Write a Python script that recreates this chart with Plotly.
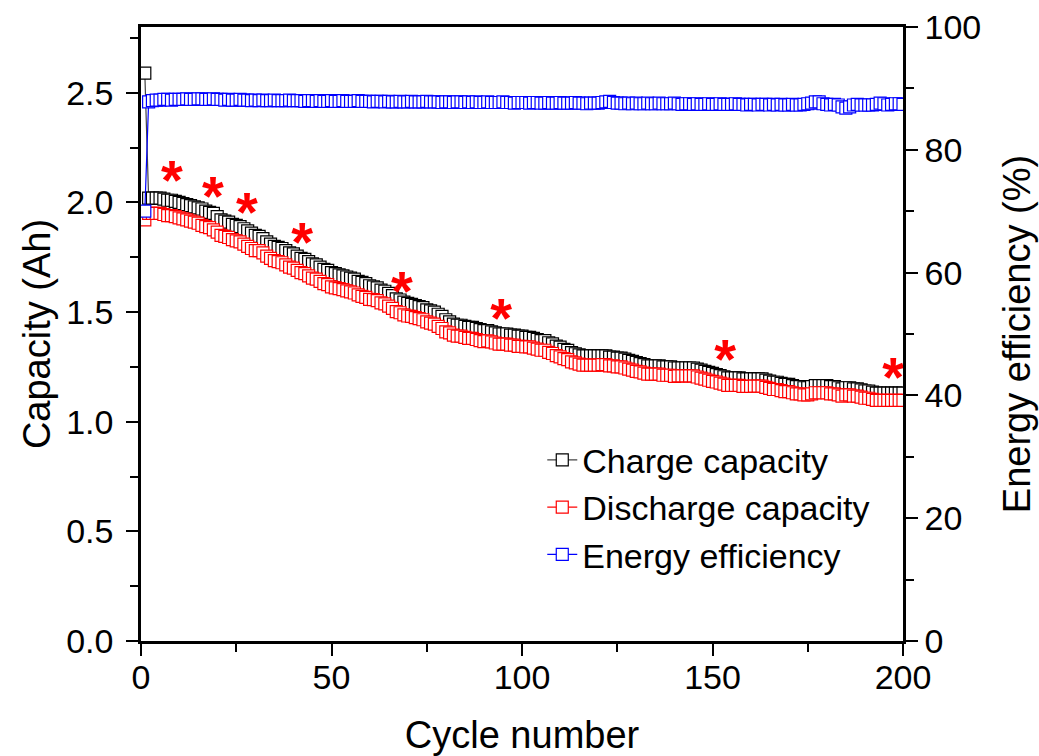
import plotly.graph_objects as go

cycles = list(range(1, 201))

charge_capacity = [
    2.59, 2.02, 2.02, 2.02, 2.02, 2.015, 2.01, 2.01, 2.005, 2.00,
    1.995, 1.99, 1.985, 1.98, 1.975, 1.97, 1.96, 1.955, 1.95, 1.935,
    1.92, 1.915, 1.91, 1.90, 1.895, 1.89, 1.88, 1.87, 1.86, 1.85,
    1.845, 1.835, 1.82, 1.81, 1.80, 1.795, 1.79, 1.78, 1.77, 1.765,
    1.755, 1.745, 1.74, 1.73, 1.72, 1.715, 1.705, 1.695, 1.69, 1.68,
    1.675, 1.67, 1.665, 1.66, 1.655, 1.65, 1.64, 1.635, 1.63, 1.62,
    1.615, 1.61, 1.60, 1.595, 1.585, 1.575, 1.56, 1.555, 1.545, 1.54,
    1.535, 1.53, 1.525, 1.52, 1.51, 1.505, 1.50, 1.49, 1.48, 1.465,
    1.455, 1.445, 1.44, 1.44, 1.435, 1.43, 1.43, 1.425, 1.42, 1.415,
    1.415, 1.41, 1.405, 1.40, 1.40, 1.40, 1.395, 1.395, 1.39, 1.39,
    1.385, 1.385, 1.38, 1.375, 1.37, 1.37, 1.36, 1.355, 1.345, 1.34,
    1.33, 1.325, 1.315, 1.31, 1.305, 1.30, 1.30, 1.30, 1.30, 1.30,
    1.30, 1.30, 1.295, 1.295, 1.29, 1.29, 1.285, 1.28, 1.275, 1.27,
    1.265, 1.26, 1.255, 1.255, 1.255, 1.255, 1.25, 1.25, 1.25, 1.245,
    1.245, 1.245, 1.245, 1.245, 1.245, 1.24, 1.235, 1.23, 1.225, 1.22,
    1.215, 1.21, 1.205, 1.20, 1.20, 1.20, 1.20, 1.195, 1.195, 1.195,
    1.195, 1.195, 1.195, 1.19, 1.185, 1.18, 1.18, 1.175, 1.17, 1.17,
    1.165, 1.16, 1.16, 1.155, 1.155, 1.16, 1.165, 1.165, 1.165, 1.165,
    1.16, 1.16, 1.155, 1.15, 1.155, 1.155, 1.15, 1.15, 1.145, 1.14,
    1.14, 1.135, 1.13, 1.13, 1.13, 1.13, 1.13, 1.13, 1.13, 1.13,
]

discharge_capacity = [
    1.92, 1.95, 1.95, 1.95, 1.95, 1.945, 1.94, 1.94, 1.935, 1.93,
    1.925, 1.92, 1.915, 1.91, 1.905, 1.895, 1.89, 1.885, 1.875, 1.865,
    1.85, 1.845, 1.84, 1.83, 1.825, 1.82, 1.81, 1.80, 1.79, 1.78,
    1.78, 1.77, 1.755, 1.745, 1.735, 1.73, 1.725, 1.715, 1.705, 1.70,
    1.69, 1.68, 1.675, 1.665, 1.655, 1.65, 1.64, 1.63, 1.625, 1.615,
    1.61, 1.607, 1.602, 1.597, 1.592, 1.587, 1.578, 1.572, 1.567, 1.558,
    1.557, 1.552, 1.542, 1.537, 1.527, 1.517, 1.502, 1.497, 1.487, 1.482,
    1.48, 1.475, 1.47, 1.465, 1.455, 1.45, 1.445, 1.435, 1.425, 1.41,
    1.405, 1.395, 1.39, 1.39, 1.385, 1.38, 1.38, 1.375, 1.37, 1.365,
    1.369, 1.364, 1.359, 1.354, 1.354, 1.354, 1.349, 1.349, 1.344, 1.344,
    1.341, 1.341, 1.336, 1.331, 1.326, 1.326, 1.316, 1.311, 1.301, 1.296,
    1.288, 1.283, 1.273, 1.268, 1.263, 1.258, 1.258, 1.258, 1.258, 1.258,
    1.26, 1.26, 1.255, 1.255, 1.25, 1.25, 1.245, 1.24, 1.235, 1.23,
    1.227, 1.222, 1.217, 1.217, 1.217, 1.217, 1.212, 1.212, 1.212, 1.207,
    1.209, 1.209, 1.209, 1.209, 1.209, 1.204, 1.199, 1.194, 1.189, 1.184,
    1.181, 1.176, 1.171, 1.166, 1.166, 1.166, 1.166, 1.161, 1.161, 1.161,
    1.162, 1.162, 1.162, 1.157, 1.152, 1.147, 1.147, 1.142, 1.137, 1.137,
    1.132, 1.127, 1.127, 1.122, 1.122, 1.127, 1.132, 1.132, 1.132, 1.132,
    1.127, 1.127, 1.122, 1.117, 1.122, 1.122, 1.117, 1.117, 1.112, 1.107,
    1.107, 1.102, 1.097, 1.097, 1.097, 1.097, 1.097, 1.097, 1.097, 1.097,
]

energy_efficiency = [
    70.0, 87.8, 88.0, 88.1, 88.1, 88.2, 88.2, 88.1, 88.2, 88.2,
    88.2, 88.3, 88.2, 88.2, 88.3, 88.3, 88.2, 88.2, 88.3, 88.2,
    88.2, 88.1, 88.2, 88.1, 88.1, 88.2, 88.1, 88.1, 88.0, 88.1,
    88.0, 88.1, 88.0, 88.0, 88.1, 88.0, 88.0, 88.0, 88.1, 88.0,
    88.0, 88.0, 87.9, 88.0, 88.0, 87.9, 88.0, 87.9, 87.9, 88.0,
    87.9, 87.9, 88.0, 87.9, 87.9, 87.9, 88.0, 87.9, 87.9, 87.9,
    87.8, 87.9, 87.9, 87.8, 87.9, 87.8, 87.8, 87.9, 87.8, 87.8,
    87.9, 87.8, 87.8, 87.8, 87.9, 87.8, 87.8, 87.8, 87.7, 87.8,
    87.8, 87.7, 87.8, 87.8, 87.7, 87.8, 87.7, 87.8, 87.7, 87.7,
    87.8, 87.7, 87.7, 87.7, 87.8, 87.7, 87.7, 87.6, 87.7, 87.7,
    87.7, 87.6, 87.7, 87.7, 87.6, 87.6, 87.7, 87.6, 87.6, 87.7,
    87.6, 87.6, 87.6, 87.7, 87.6, 87.6, 87.5, 87.6, 87.6, 87.6,
    87.7, 87.8, 87.9, 87.7, 87.6, 87.6, 87.5, 87.6, 87.5, 87.6,
    87.5, 87.5, 87.6, 87.5, 87.5, 87.6, 87.5, 87.5, 87.5, 87.6,
    87.5, 87.4, 87.5, 87.5, 87.4, 87.5, 87.4, 87.4, 87.5, 87.4,
    87.4, 87.5, 87.4, 87.4, 87.4, 87.5, 87.4, 87.4, 87.3, 87.4,
    87.4, 87.3, 87.4, 87.4, 87.3, 87.4, 87.3, 87.4, 87.3, 87.3,
    87.4, 87.3, 87.3, 87.4, 87.5, 87.6, 87.8, 87.8, 87.5, 87.4,
    87.3, 87.4, 87.3, 87.0, 86.8, 87.0, 87.3, 87.4, 87.3, 87.3,
    87.3, 87.3, 87.4, 87.6, 87.5, 87.3, 87.4, 87.5, 87.5, 87.4,
]

star_cycles = [8.1, 18.9, 27.8, 42.3, 68.5, 94.5, 153.3, 197.4]
star_capacity = [2.08, 2.005, 1.935, 1.795, 1.575, 1.45, 1.265, 1.18]

x_ticks = [0, 50, 100, 150, 200]
y_ticks = [0.0, 0.5, 1.0, 1.5, 2.0, 2.5]
y2_ticks = [0, 20, 40, 60, 80, 100]

FONT = "Liberation Sans, Arial, sans-serif"

fig = go.Figure()

fig.add_trace(go.Scatter(
    x=cycles, y=charge_capacity, name="Charge capacity",
    mode="lines+markers",
    line=dict(color="#444444", width=1.2),
    marker=dict(symbol="square", size=12, color="white",
                line=dict(color="black", width=1.2)),
))
fig.add_trace(go.Scatter(
    x=cycles, y=discharge_capacity, name="Discharge capacity",
    mode="lines+markers",
    line=dict(color="#ff0000", width=1.2),
    marker=dict(symbol="square", size=12, color="white",
                line=dict(color="#ff0000", width=1.2)),
))
fig.add_trace(go.Scatter(
    x=star_cycles, y=star_capacity, mode="text", text=["*"] * len(star_cycles),
    textposition="middle center",
    textfont=dict(family="Liberation Sans, Arial, sans-serif", size=56, color="#ff0000",
                  weight="bold"),
    showlegend=False, cliponaxis=False, hoverinfo="skip",
))
fig.add_trace(go.Scatter(
    x=cycles, y=energy_efficiency, name="Energy efficiency", yaxis="y2",
    mode="lines+markers",
    line=dict(color="#0000ff", width=1.2),
    marker=dict(symbol="square", size=12, color="white",
                line=dict(color="#0000ff", width=1.2)),
))

axis_common = dict(
    showgrid=False, zeroline=False, showline=True, linecolor="black", linewidth=2.5,
    ticks="outside", ticklen=12, tickwidth=2, tickcolor="black",
    tickfont=dict(family=FONT, size=34, color="black"),
    automargin=False,
)

fig.update_layout(
    width=1039, height=756,
    margin=dict(l=141, r=136, t=27, b=115),
    paper_bgcolor="white", plot_bgcolor="white",
    font=dict(family=FONT, color="black"),
    xaxis=dict(
        range=[0, 200], tickvals=x_ticks, mirror=True,
        minor=dict(tickvals=[25, 75, 125, 175], ticks="outside", ticklen=8,
                   tickwidth=2, tickcolor="black"),
        title=dict(text="Cycle number", font=dict(family=FONT, size=38), standoff=31),
        ticklabelstandoff=-8,
        **axis_common,
    ),
    yaxis=dict(
        range=[0, 2.8], tickvals=y_ticks, tickformat=".1f",
        minor=dict(tickvals=[0.25, 0.75, 1.25, 1.75, 2.25, 2.75], ticks="outside",
                   ticklen=8, tickwidth=2, tickcolor="black"),
        title=dict(text="Capacity (Ah)", font=dict(family=FONT, size=38), standoff=4),
        ticklabelstandoff=6,
        **axis_common,
    ),
    yaxis2=dict(
        range=[0, 100], tickvals=y2_ticks, overlaying="y", side="right",
        minor=dict(tickvals=[10, 30, 50, 70, 90], ticks="outside",
                   ticklen=8, tickwidth=2, tickcolor="black"),
        title=dict(text="Energy efficiency (%)", font=dict(family=FONT, size=38), standoff=24),
        **axis_common,
    ),
    legend=dict(
        x=0.5266, y=0.3415, xanchor="left", yanchor="top",
        bgcolor="rgba(0,0,0,0)", borderwidth=0,
        font=dict(family=FONT, size=34, color="black"),
        tracegroupgap=0,
    ),
    showlegend=True,
)

fig.write_html("out.html")
